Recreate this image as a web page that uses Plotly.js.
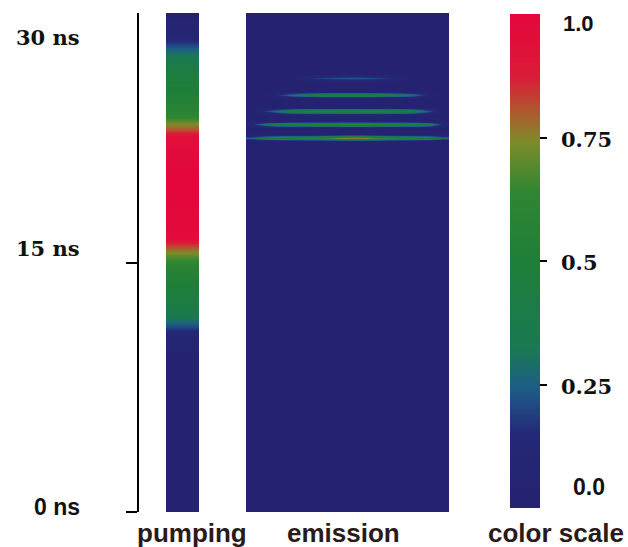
<!DOCTYPE html>
<html>
<head>
<meta charset="utf-8">
<script src="https://cdn.plot.ly/plotly-3.0.1.min.js"></script>
<style>html,body{margin:0;padding:0;background:#fff;}#chart{width:628px;height:547px;}</style>
</head>
<body>
<div id="chart"></div>
<script>
// ---- data ----
// Pumping intensity profile vs time (ns)
const pumpTimes  = [0, 9.5, 10.4, 10.9, 11.3, 11.7, 12.3, 13.3, 14.5, 15.2, 15.7, 16.1, 16.5, 20.0, 22.6, 22.9, 23.3, 23.8, 25.0, 26.5, 27.2, 27.7, 28.2, 28.8, 30.0];
const pumpValues = [0.02, 0.03, 0.08, 0.15, 0.24, 0.33, 0.42, 0.48, 0.56, 0.66, 0.76, 0.85, 0.97, 1.0, 0.95, 0.83, 0.74, 0.62, 0.52, 0.45, 0.36, 0.27, 0.18, 0.06, 0.03];

// Emission: row times (ns) and intensity across 15 columns of the emission window
const emissionCols  = [0,1,2,3,4,5,6,7,8,9,10,11,12,13,14];
const emissionTimes = [0, 22.28, 22.5, 22.72, 23.08, 23.3, 23.52, 23.88, 24.1, 24.32, 24.88, 25.1, 25.32, 25.88, 26.1, 26.32, 30];
const bg    = [0.02,0.02,0.02,0.02,0.02,0.02,0.02,0.02,0.02,0.02,0.02,0.02,0.02,0.02,0.02];
const line1 = [0.25, 0.4, 0.48, 0.52, 0.54, 0.58, 0.66, 0.76, 0.78, 0.66, 0.58, 0.54, 0.52, 0.45, 0.28]; // 22.5 ns
const line2 = [0.15, 0.33, 0.45, 0.5, 0.52, 0.54, 0.55, 0.58, 0.58, 0.55, 0.53, 0.52, 0.48, 0.38, 0.15]; // 23.3 ns
const line3 = [0.03, 0.18, 0.33, 0.45, 0.5, 0.52, 0.52, 0.54, 0.52, 0.52, 0.5, 0.47, 0.4, 0.22, 0.03];   // 24.1 ns
const line4 = [0.02, 0.03, 0.17, 0.3, 0.4, 0.45, 0.48, 0.48, 0.48, 0.45, 0.42, 0.37, 0.27, 0.1, 0.02];  // 25.1 ns
const line5 = [0.02, 0.02, 0.02, 0.05, 0.13, 0.19, 0.21, 0.23, 0.23, 0.21, 0.16, 0.08, 0.03, 0.02, 0.02]; // 26.1 ns
const emissionZ = [bg, bg, line1, bg, bg, line2, bg, bg, line3, bg, bg, line4, bg, bg, line5, bg, bg];

// Axis / scale labels
const timeTickVals   = [0, 15, 30];
const timeTickLabels = ['0 ns', '15 ns', '30 ns'];
const scaleTickVals  = [0.25, 0.5, 0.75];
const scaleTickText  = ['0.25', '0.5', '0.75'];
const scaleEndLabels = ['0.0', '1.0'];
const columnLabels   = ['pumping', 'emission', 'color scale'];

// ---- styling ----
const colorscale = [
  [0.00, 'rgb(37,34,112)'],
  [0.15, 'rgb(36,40,118)'],
  [0.24, 'rgb(30,92,136)'],
  [0.32, 'rgb(26,120,84)'],
  [0.50, 'rgb(30,126,56)'],
  [0.64, 'rgb(48,134,50)'],
  [0.74, 'rgb(125,140,42)'],
  [0.81, 'rgb(180,82,46)'],
  [0.87, 'rgb(218,28,56)'],
  [1.00, 'rgb(228,6,60)']
];
const W = 628, H = 547;
const px = x => x / W;
const py = y => 1 - y / H;
const cbTop = 14, cbBot = 508;

const pumpZ = pumpValues.map(v => [v, v]);

const traces = [
  {
    type: 'heatmap', x: [0, 1], y: pumpTimes, z: pumpZ,
    xaxis: 'x', yaxis: 'y', zmin: 0, zmax: 1, zsmooth: 'best',
    colorscale: colorscale, hoverinfo: 'skip',
    colorbar: {
      x: px(510), xanchor: 'left', xpad: 0,
      y: py(cbBot), yanchor: 'bottom', ypad: 0,
      len: (cbBot - cbTop) / H, lenmode: 'fraction',
      thickness: 30, thicknessmode: 'pixels',
      outlinewidth: 0,
      ticks: 'outside', ticklen: 7, tickwidth: 2, tickcolor: '#000',
      tickmode: 'array', tickvals: scaleTickVals, ticktext: scaleTickText,
      showticklabels: false
    }
  },
  {
    type: 'heatmap', x: emissionCols, y: emissionTimes, z: emissionZ,
    xaxis: 'x2', yaxis: 'y', zmin: 0, zmax: 1, zsmooth: 'best',
    colorscale: colorscale, showscale: false, hoverinfo: 'skip'
  }
];

const serif = {family: 'DejaVu Serif', size: 21, color: '#111', weight: 'bold'};
const sans  = {family: 'Liberation Sans', size: 23, color: '#111', weight: 'bold'};
const labelFont = {family: 'Liberation Sans', size: 26, color: '#2a1a1a', weight: 'bold'};

const cbY = v => cbBot - v * (cbBot - cbTop);

const annotations = [
  {text: timeTickLabels[2], x: px(82), y: py(38),  font: serif, xanchor: 'right'},
  {text: timeTickLabels[1], x: px(82), y: py(248), font: serif, xanchor: 'right'},
  {text: timeTickLabels[0], x: px(82), y: py(507), font: sans,  xanchor: 'right'},
  {text: scaleEndLabels[1], x: px(561), y: py(24),  font: {family: 'Liberation Sans', size: 22, color: '#111', weight: 'bold'}, xanchor: 'left'},
  {text: scaleEndLabels[0], x: px(571), y: py(487), font: {family: 'Liberation Sans', size: 23, color: '#111', weight: 'bold'}, xanchor: 'left'},
  {text: columnLabels[0], x: px(192), y: py(533), font: labelFont, xanchor: 'center'},
  {text: columnLabels[1], x: px(343), y: py(533), font: labelFont, xanchor: 'center'},
  {text: columnLabels[2], x: px(556), y: py(533), font: labelFont, xanchor: 'center'}
].concat(scaleTickVals.map((v, i) => ({
  text: scaleTickText[i], x: px(559), y: py(cbY(v) + 2), font: serif, xanchor: 'left'
}))).map(a => Object.assign({xref: 'paper', yref: 'paper', yanchor: 'middle', showarrow: false}, a));

const layout = {
  width: W, height: H,
  margin: {l: 0, r: 0, t: 0, b: 0},
  paper_bgcolor: '#fff', plot_bgcolor: 'rgba(0,0,0,0)',
  showlegend: false,
  xaxis:  {domain: [px(166), px(199)], range: [-0.5, 1.5], visible: false, fixedrange: true},
  xaxis2: {domain: [px(246), px(449)], range: [-0.5, 14.5], visible: false, fixedrange: true},
  yaxis: {
    domain: [py(512), py(13)], range: [0, 30],
    anchor: 'free', position: px(138),
    showline: true, linecolor: '#000', linewidth: 2,
    ticks: 'outside', tickmode: 'array', tickvals: timeTickVals.slice(0, 2),
    ticklen: 11, tickwidth: 2, tickcolor: '#000',
    showticklabels: false, showgrid: false, zeroline: false, fixedrange: true
  },
  annotations: annotations
};

Plotly.newPlot('chart', traces, layout, {displayModeBar: false, staticPlot: true});
</script>
</body>
</html>
